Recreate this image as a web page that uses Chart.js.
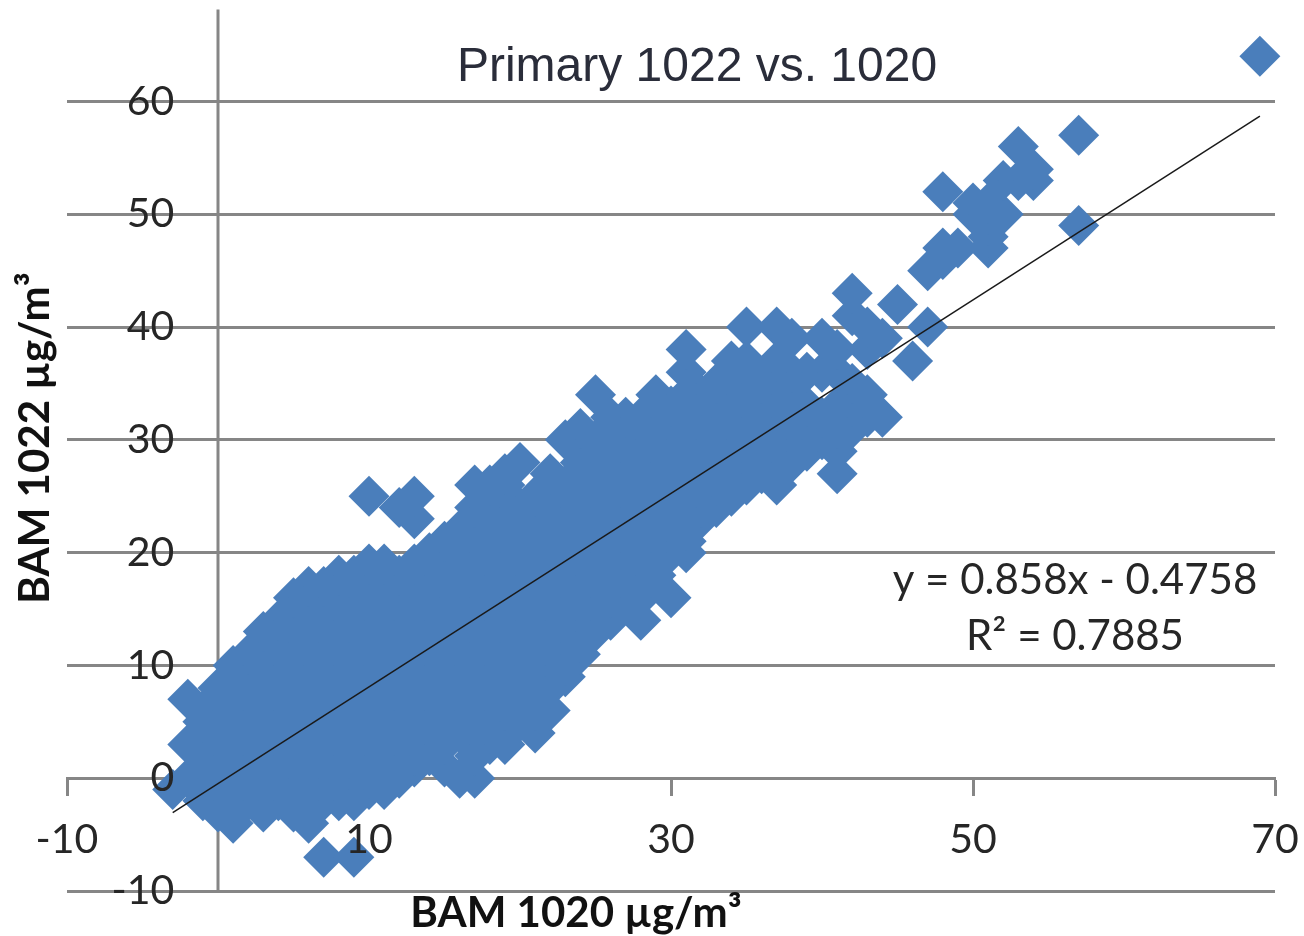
<!DOCTYPE html>
<html>
<head>
<meta charset="utf-8">
<title>Primary 1022 vs. 1020</title>
<script src="https://cdn.jsdelivr.net/npm/chart.js@4"></script>
<style>
  html, body { margin: 0; padding: 0; background: #fff; }
  #wrap { width: 1304px; height: 936px; }
</style>
</head>
<body>
<div id="wrap"><canvas id="scatterChart" width="1304" height="936"></canvas></div>
<script>
// BAM 1020 readings (x), one entry per column of points
const bam1020 = [
  -3, -2, -1, 0, 1, 2, 3, 4, 5, 6, 7, 8, 9, 10, 11, 12, 13, 14, 15, 16, 17, 18, 19, 20, 21, 22, 23,
  24, 25, 26, 27, 28, 29, 30, 31, 32, 33, 34, 35, 36, 37, 38, 39, 40, 41, 42, 43, 44, 45, 46, 47,
  48, 49, 50, 51, 52, 53, 54, 57, 69
];

// BAM 1022 readings (y) for each x above
const bam1022 = [
  [-1], [0, 3, 7], [-2, 2, 5, 6], [-3, 0, 4, 8], [-4, -2, 2, 6, 10], [-2, 0, 4, 8, 11],
  [-3, -2, 2, 6, 10, 13], [-2, 0, 4, 8, 12, 14], [-3, -2, 2, 6, 10, 14, 16],
  [-4, 0, 4, 8, 12, 16, 17], [-7, -2, 2, 6, 10, 14, 17], [-2, 0, 4, 8, 12, 16, 18],
  [-7, -2, 2, 6, 10, 14, 18], [-1, 0, 4, 8, 12, 16, 19, 25], [-1, 2, 6, 10, 14, 18, 19],
  [0, 4, 8, 12, 16, 18, 24], [1, 2, 6, 10, 14, 18, 19, 23, 25], [2, 4, 8, 12, 16, 20],
  [1, 3, 6, 10, 14, 18, 21], [0, 4, 8, 12, 16, 20, 22], [0, 2, 6, 10, 14, 18, 22, 24, 26],
  [3, 4, 8, 12, 16, 20, 24, 26], [3, 6, 10, 14, 18, 22, 26, 27], [5, 8, 12, 16, 20, 24, 28],
  [4, 6, 10, 14, 18, 22, 25], [6, 8, 12, 16, 20, 24, 27], [9, 10, 14, 18, 22, 26, 30],
  [11, 12, 16, 20, 24, 28, 31], [13, 14, 18, 22, 26, 30, 34], [14, 16, 20, 24, 28, 32],
  [16, 18, 22, 26, 30, 32], [14, 16, 20, 24, 28, 32], [18, 22, 26, 30, 34],
  [16, 20, 24, 28, 32, 33], [20, 21, 22, 26, 30, 34, 36, 38], [23, 24, 28, 32, 34],
  [24, 26, 30, 34, 35], [25, 28, 32, 36, 37], [26, 30, 34, 37, 40], [27, 28, 32, 35],
  [26, 30, 34, 37, 40], [28, 32, 34, 36, 39], [29, 30, 33, 36], [30, 32, 36, 39],
  [27, 29, 31, 33, 36, 38], [31, 33, 35, 41, 43], [32, 34, 38, 40], [32, 39], [42], [37],
  [40, 45], [46, 47, 52], [47], [50, 51], [47, 48, 49, 50, 51], [50, 53], [53, 56], [53, 54],
  [49, 57], [64]
];

// Linear trend line ends
const trendX = [-3, 69];
const trendY = [-3.05, 58.7];

const xTicks = [-10, 10, 30, 50, 70];
const yTicks = [-10, 0, 10, 20, 30, 40, 50, 60];
const yAxisEnd = 68.15;

const titleText = "Primary 1022 vs. 1020";
const xTitle = "BAM 1020 µg/m³";
const yTitle = "BAM 1022 µg/m³";
const equation = "y = 0.858x - 0.4758";
const rSquared = "R² = 0.7885";

const points = [];
bam1020.forEach((x, i) => bam1022[i].forEach(y => points.push({ x, y })));

// No padding from tick labels, they overhang the plot area
function noScalePadding(scale) {
  scale.paddingLeft = 0;
  scale.paddingRight = 0;
  scale.paddingTop = 0;
  scale.paddingBottom = 0;
}

// The vertical axis line crosses at x = 0, its labels stand further left
const axisLinePlugin = {
  id: "axisLine",
  beforeDatasetsDraw(chart) {
    const { ctx, chartArea, scales } = chart;
    const px = scales.x.getPixelForValue(0);
    ctx.save();
    ctx.strokeStyle = "#868686";
    ctx.lineWidth = 3;
    ctx.beginPath();
    ctx.moveTo(px, scales.y.getPixelForValue(yAxisEnd));
    ctx.lineTo(px, chartArea.bottom);
    ctx.stroke();
    ctx.restore();
  },
};

// Title, axis titles and the trend equation sit at free positions
const labelsPlugin = {
  id: "freeLabels",
  afterDraw(chart) {
    const ctx = chart.ctx;
    ctx.save();
    ctx.textBaseline = "middle";
    ctx.textAlign = "center";
    ctx.fillStyle = "#2a2d3a";
    ctx.font = "48px 'Liberation Sans'";
    ctx.fillText(titleText, 697, 68);
    ctx.fillStyle = "#262626";
    ctx.font = "42px Lato";
    ctx.fillText(equation, 1075, 580);
    ctx.fillText(rSquared, 1075, 636);
    ctx.fillStyle = "#111";
    ctx.font = "bold 42px Lato";
    ctx.fillText(xTitle, 576, 913);
    ctx.translate(35, 438);
    ctx.rotate(-Math.PI / 2);
    ctx.fillText(yTitle, 0, 0);
    ctx.restore();
  },
};

new Chart(document.getElementById("scatterChart"), {
  type: "scatter",
  data: {
    datasets: [
      {
        label: "Primary 1022 vs. 1020",
        data: points,
        pointStyle: "rectRot",
        pointRadius: 20.5,
        pointHoverRadius: 20.5,
        backgroundColor: "#4a7ebb",
        borderColor: "#4a7ebb",
        borderWidth: 0,
        clip: false,
        order: 2,
      },
      {
        label: "Trend",
        type: "line",
        data: trendX.map((x, i) => ({ x, y: trendY[i] })),
        borderColor: "#1a1a1a",
        borderWidth: 1.5,
        pointRadius: 0,
        fill: false,
        order: 1,
      },
    ],
  },
  options: {
    responsive: false,
    animation: false,
    layout: { padding: { left: 67, right: 29, top: 9, bottom: 45 } },
    plugins: { legend: { display: false }, title: { display: false }, tooltip: { enabled: false } },
    scales: {
      x: {
        type: "linear",
        min: -10,
        max: 70,
        position: { y: 0 },
        afterBuildTicks: axis => { axis.ticks = xTicks.map(value => ({ value })); },
        afterFit: noScalePadding,
        grid: { drawOnChartArea: false, tickLength: 16, tickColor: "#868686", tickWidth: 3 },
        border: { color: "#868686", width: 3 },
        ticks: {
          z: 1,
          padding: 21,
          maxRotation: 0,
          color: "#262626",
          font: { family: "Lato", size: 41 },
        },
      },
      y: {
        type: "linear",
        min: -10,
        max: 67.18,
        position: { x: -2.9 },
        afterBuildTicks: axis => { axis.ticks = yTicks.map(value => ({ value })); },
        afterFit: noScalePadding,
        grid: { drawTicks: false, color: "#868686", lineWidth: 3 },
        border: { display: false },
        ticks: {
          z: 1,
          color: "#262626",
          font: { family: "Lato", size: 41 },
        },
      },
    },
  },
  plugins: [axisLinePlugin, labelsPlugin],
});
</script>
</body>
</html>
